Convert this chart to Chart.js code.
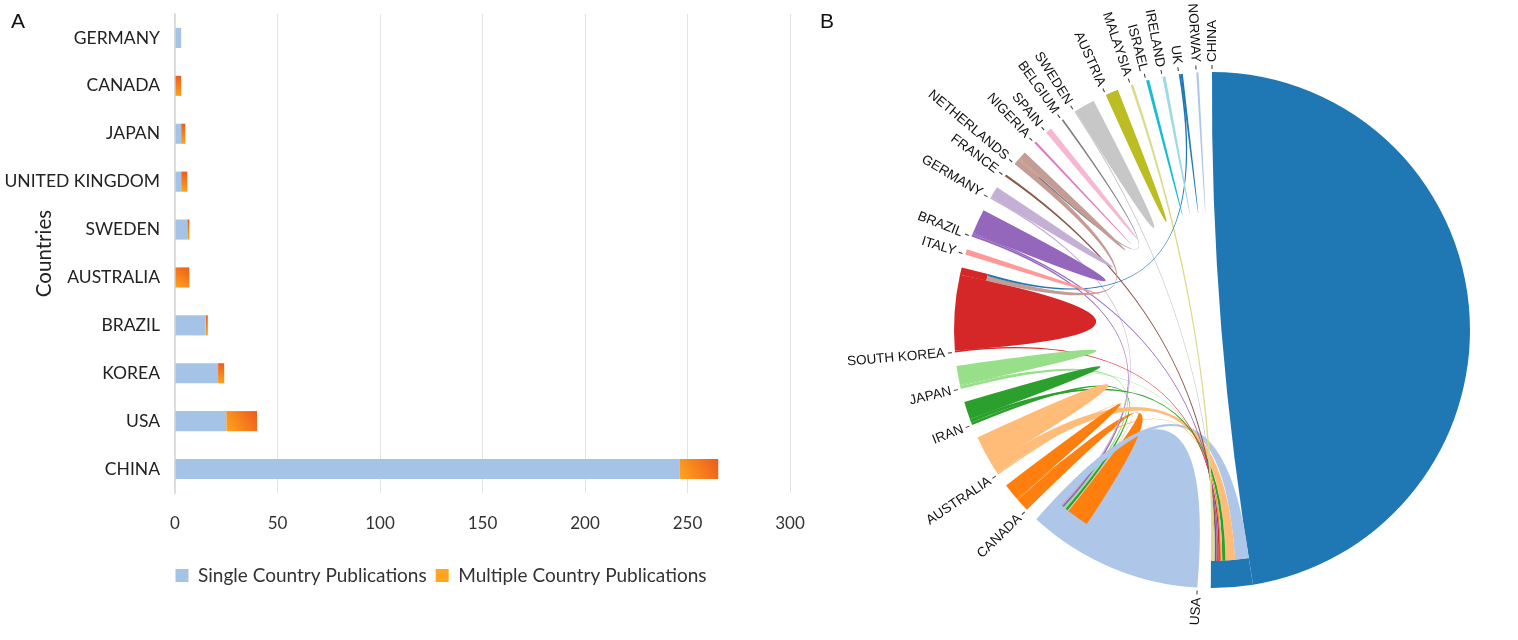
<!DOCTYPE html>
<html><head><meta charset="utf-8">
<script src="https://cdn.jsdelivr.net/npm/chart.js@4.4.1/dist/chart.umd.min.js"></script>
<style>
html,body{margin:0;padding:0;background:#fff;width:1518px;height:640px;overflow:hidden;}
#wrapA{position:absolute;left:0;top:0;width:882px;height:640px;}
#wrapB{position:absolute;left:818px;top:0;width:700px;height:640px;}
.panel{position:absolute;font-family:"Liberation Sans",Arial,sans-serif;font-size:21px;line-height:21px;color:#111;}
</style></head><body>
<div id="wrapA"><canvas id="chartA"></canvas></div>
<div id="wrapB"><canvas id="chartB"></canvas></div>
<div class="panel" style="left:11px;top:10px">A</div>
<div class="panel" style="left:820px;top:10px">B</div>
<script>
// ---------- Panel A data ----------
const countries = ['GERMANY','CANADA','JAPAN','UNITED KINGDOM','SWEDEN','AUSTRALIA','BRAZIL','KOREA','USA','CHINA'];
const singlePubs = [3,0,3,3,6,0,15,21,25,246];
const multiplePubs = [0,3,2,3,1,7,1,3,15,19];
const xAxisMax = 300, xAxisStep = 50;

// ---------- Panel B data ----------
const sectors = ['CHINA','USA','CANADA','AUSTRALIA','IRAN','JAPAN','SOUTH KOREA','ITALY','BRAZIL','GERMANY','FRANCE','NETHERLANDS','NIGERIA','SPAIN','BELGIUM','SWEDEN','AUSTRIA','MALAYSIA','ISRAEL','IRELAND','UK','NORWAY'];
const sectorColors = ['#1f77b4','#aec7e8','#ff7f0e','#ffbb78','#2ca02c','#98df8a','#d62728','#ff9896','#9467bd','#c5b0d5','#8c564b','#c49c94','#e377c2','#f7b6d2','#7f7f7f','#c7c7c7','#bcbd22','#dbdb8d','#17becf','#9edae5','#1f77b4','#aec7e8'];
// [from, to, width at source end, width at target end]
const linkList = [
  ['CHINA','CHINA',170.5,170.5],
  ['USA','USA',29.5,29.5],
  ['CANADA','USA',3.0,5.6],
  ['AUSTRALIA','USA',0.3,0.3],
  ['IRAN','USA',0.6,0.6],
  ['JAPAN','USA',0.6,0.6],
  ['BRAZIL','USA',0.5,0.5],
  ['GERMANY','USA',0.4,0.4],
  ['USA','CHINA',2.0,3.4],
  ['AUSTRALIA','CHINA',2.4,2.4],
  ['IRAN','CHINA',0.8,0.8],
  ['JAPAN','CHINA',0.3,0.3],
  ['CANADA','CHINA',0.3,0.3],
  ['SOUTH KOREA','CHINA',0.4,0.4],
  ['BRAZIL','CHINA',0.4,0.4],
  ['FRANCE','CHINA',0.5,0.5],
  ['SWEDEN','CHINA',0.3,0.3],
  ['MALAYSIA','CHINA',0.6,0.6],
  ['CANADA','CANADA',3.8,3.8],
  ['AUSTRALIA','AUSTRALIA',6.7,6.7],
  ['IRAN','IRAN',4.0,4.0],
  ['JAPAN','JAPAN',4.3,4.3],
  ['SOUTH KOREA','SOUTH KOREA',16.9,16.9],
  ['NETHERLANDS','SOUTH KOREA',1.2,1.2],
  ['UK','SOUTH KOREA',0.4,0.5],
  ['BELGIUM','NETHERLANDS',0.4,0.4],
  ['ITALY','ITALY',1.2,1.2],
  ['BRAZIL','BRAZIL',5.5,5.5],
  ['GERMANY','GERMANY',2.5,2.5],
  ['NETHERLANDS','NETHERLANDS',1.8,1.8],
  ['NIGERIA','NIGERIA',0.5,0.5],
  ['SPAIN','SPAIN',1.4,1.4],
  ['SWEDEN','SWEDEN',4.6,4.6],
  ['AUSTRIA','AUSTRIA',2.9,2.9],
  ['ISRAEL','ISRAEL',0.7,0.7],
  ['IRELAND','IRELAND',0.7,0.7],
  ['UK','UK',0.5,0.5],
  ['NORWAY','NORWAY',0.5,0.5]
];
// sectors whose self-link is drawn across the whole sector, under its other link ends
const fullSelfSectors = ['USA'];
const GAP_DEG = 3;

// ---------- Panel A chart ----------
const FONT_A = 'Lato, "Open Sans", sans-serif';
function orangeFill(c){
  const chart = c.chart;
  if (c.type !== 'data' || !chart.chartArea || !chart.scales.x) return '#F5821F';
  const xs = chart.scales.x, ys = chart.scales.y, i = c.dataIndex;
  const x0 = xs.getPixelForValue(singlePubs[i]);
  const x1 = xs.getPixelForValue(singlePubs[i] + multiplePubs[i]);
  const yc = ys.getPixelForValue(i);
  if (!isFinite(x0) || !isFinite(x1) || !isFinite(yc)) return '#F5821F';
  const g = chart.ctx.createLinearGradient(x0, yc + 10, Math.max(x1, x0 + 1), yc - 10);
  g.addColorStop(0, '#FFA51F');
  g.addColorStop(1, '#EE5A1B');
  return g;
}
new Chart(document.getElementById('chartA'), {
  type: 'bar',
  data: {
    labels: countries,
    datasets: [
      {label: 'Single Country Publications', data: singlePubs, backgroundColor: '#A4C3E6', barPercentage: 0.42, categoryPercentage: 1},
      {label: 'Multiple Country Publications', data: multiplePubs, backgroundColor: orangeFill, barPercentage: 0.42, categoryPercentage: 1}
    ]
  },
  options: {
    indexAxis: 'y', responsive: true, maintainAspectRatio: false, animation: false, events: [],
    layout: {padding: {top: 14, right: 0, bottom: 45, left: 0}},
    scales: {
      x: {stacked: true, min: 0, max: xAxisMax,
          ticks: {stepSize: xAxisStep, padding: 20, color: '#333', font: {family: FONT_A, size: 17}},
          grid: {color: '#E3E3E3', drawTicks: false}, border: {display: false},
          afterFit: s => { s.height = 64; }},
      y: {stacked: true,
          ticks: {padding: 15, color: '#222', font: {family: FONT_A, size: 17.5}},
          grid: {display: false, drawTicks: false},
          border: {display: true, color: '#D9D9D9', width: 1.5},
          title: {display: true, text: 'Countries', color: '#222', font: {family: FONT_A, size: 20.5}, padding: {top: 32, bottom: 0}},
          afterFit: s => { s.width = 175; s.paddingTop = 0; s.paddingBottom = 0; }},
      yRight: {type: 'category', position: 'right', display: true,
          ticks: {display: false}, grid: {display: false, drawTicks: false}, border: {display: false},
          afterFit: s => { s.width = 92; s.paddingTop = 0; s.paddingBottom = 0; }}
    },
    plugins: {
      legend: {position: 'bottom', labels: {boxWidth: 13, boxHeight: 13, padding: 9, color: '#333', font: {family: FONT_A, size: 19}}},
      tooltip: {enabled: false}
    }
  }
});

// ---------- Panel B chart (chord diagram on doughnut sectors) ----------
const sectorIndex = {};
sectors.forEach((s, k) => sectorIndex[s] = k);
const sectorTotals = sectors.map(() => 0);
linkList.forEach(([f, t, vf, vt]) => {
  if (f === t) sectorTotals[sectorIndex[f]] += vf;
  else { sectorTotals[sectorIndex[f]] += vf; sectorTotals[sectorIndex[t]] += vt; }
});
const grandTotal = sectorTotals.reduce((a, b) => a + b, 0);
const gapValue = grandTotal * GAP_DEG / (360 - sectors.length * GAP_DEG);
const ringData = [], ringLabels = [];
sectors.forEach((s, k) => { ringData.push(sectorTotals[k], gapValue); ringLabels.push(s, ''); });

const CURVE_ALPHA = 0.09, TARGET_SHRINK = 27;
const chordPlugin = {
  id: 'chords',
  afterDatasetsDraw(chart) {
    const meta = chart.getDatasetMeta(0);
    const arcs = sectors.map((s, k) => meta.data[2 * k]);
    const cx = arcs[0].x, cy = arcs[0].y, R = arcs[0].outerRadius, Rt = R - TARGET_SHRINK;
    const cursor = arcs.map(a => a.startAngle);
    const perUnit = arcs.map((a, k) => (a.endAngle - a.startAngle) / sectorTotals[k]);
    const ctx = chart.ctx;
    const pt = (a, r) => [cx + r * Math.cos(a), cy + r * Math.sin(a)];
    const curve = (a0, r0, a1, r1) => {
      const p0 = pt(a0, r0), p2 = pt(a1, r1);
      const mx = (p0[0] + p2[0]) / 2 - cx, my = (p0[1] + p2[1]) / 2 - cy;
      ctx.quadraticCurveTo(cx - CURVE_ALPHA * mx, cy - CURVE_ALPHA * my, p2[0], p2[1]);
    };
    // pass 1: allocate link ends
    const geo = [];
    const inRange = sectors.map(() => null);
    linkList.forEach(([f, t, vf, vt]) => {
      const fi = sectorIndex[f], ti = sectorIndex[t];
      let a1 = cursor[fi], a2 = a1 + vf * perUnit[fi];
      cursor[fi] = a2;
      if (fi === ti) {
        if (fullSelfSectors.includes(f)) { a1 = arcs[fi].startAngle; a2 = arcs[fi].endAngle; }
        geo.push({self: true, fi, a1, a2});
        return;
      }
      const b1 = cursor[ti], b2 = b1 + vt * perUnit[ti];
      cursor[ti] = b2;
      geo.push({self: false, fi, ti, a1, a2, b1, b2});
      const r = inRange[ti];
      inRange[ti] = r ? [Math.min(r[0], b1), Math.max(r[1], b2)] : [b1, b2];
    });
    ctx.save();
    // pass 2: target strips (one per receiving sector)
    inRange.forEach((r, k) => {
      if (!r) return;
      ctx.beginPath();
      ctx.arc(cx, cy, R, r[0], r[1]);
      ctx.arc(cx, cy, Rt, r[1], r[0], true);
      ctx.closePath();
      ctx.fillStyle = sectorColors[k]; ctx.fill();
    });
    // pass 3: ribbons and mountains
    geo.forEach(g => {
      ctx.beginPath();
      if (g.self) {
        ctx.arc(cx, cy, R, g.a1, g.a2);
        curve(g.a2, R, g.a1, R);
      } else {
        ctx.arc(cx, cy, R, g.a1, g.a2);
        curve(g.a2, R, g.b1, Rt);
        ctx.arc(cx, cy, Rt, g.b1, g.b2);
        curve(g.b2, Rt, g.a1, R);
      }
      ctx.closePath();
      ctx.fillStyle = sectorColors[g.fi]; ctx.fill();
    });
    // sector labels at sector start
    ctx.fillStyle = '#111'; ctx.strokeStyle = '#333'; ctx.lineWidth = 1;
    ctx.font = '13.5px "Liberation Sans", Arial, sans-serif';
    ctx.textBaseline = 'middle';
    arcs.forEach((a, k) => {
      const th = a.startAngle;
      ctx.save();
      ctx.translate(cx, cy);
      ctx.rotate(th);
      ctx.beginPath(); ctx.moveTo(R + 3, 0); ctx.lineTo(R + 7, 0); ctx.stroke();
      if (Math.cos(th) >= 0) {
        ctx.textAlign = 'left';
        ctx.fillText(sectors[k], R + 10, 0);
      } else {
        ctx.translate(R + 10, 0);
        ctx.rotate(Math.PI);
        ctx.textAlign = 'right';
        ctx.fillText(sectors[k], 0, 0);
      }
      ctx.restore();
    });
    ctx.restore();
  }
};
new Chart(document.getElementById('chartB'), {
  type: 'doughnut',
  data: {labels: ringLabels, datasets: [{data: ringData, backgroundColor: 'rgba(0,0,0,0)', borderWidth: 0, hoverOffset: 0, offset: 0, spacing: 0}]},
  options: {
    responsive: true, maintainAspectRatio: false, animation: false, events: [],
    cutout: '99%', rotation: 0,
    layout: {padding: {left: 136, right: 48, top: 72, bottom: 52}},
    plugins: {legend: {display: false}, tooltip: {enabled: false}}
  },
  plugins: [chordPlugin]
});
</script>
</body></html>
